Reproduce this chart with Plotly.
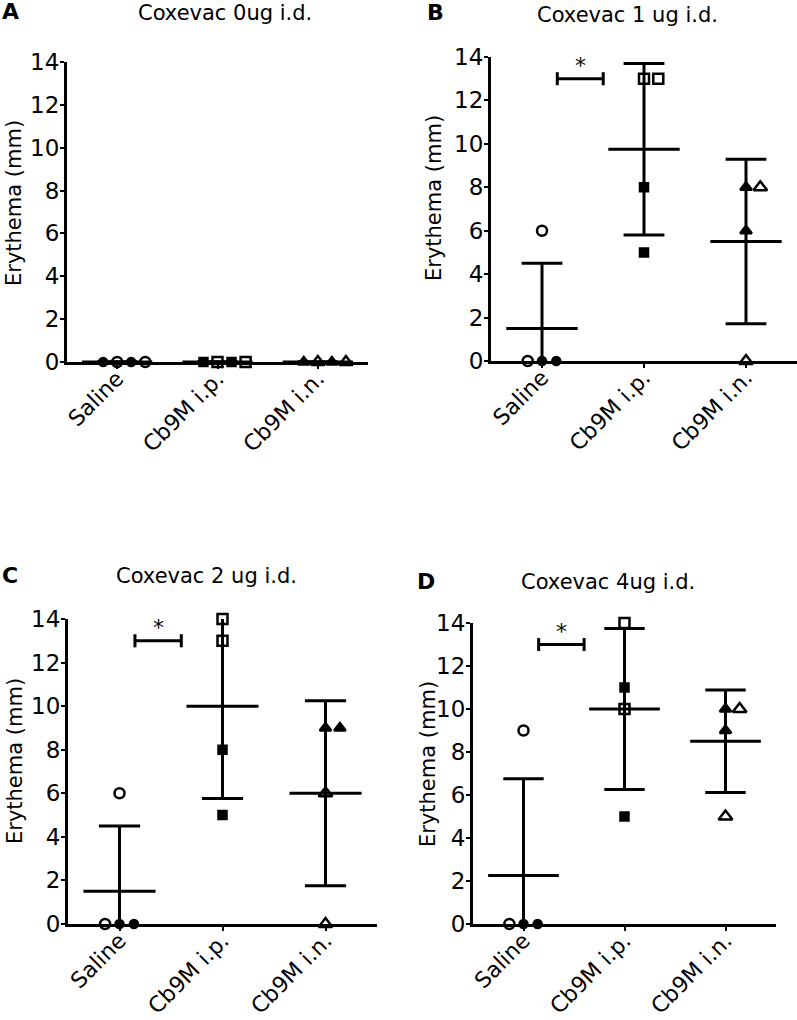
"""
Erythema after Coxevac intradermal challenge, four dose panels.
Scatter of individual animals with mean and SD bars.
"""
import plotly.graph_objects as go
from plotly.subplots import make_subplots
import numpy as np

W, H = 797, 1020

groups = ["Saline", "Cb9M i.p.", "Cb9M i.n."]
y_ticks = [0, 2, 4, 6, 8, 10, 12, 14]

panel_letters = ["A", "B", "C", "D"]
panel_titles = ["Coxevac 0ug i.d.", "Coxevac 1 ug i.d.", "Coxevac 2 ug i.d.", "Coxevac 4ug i.d."]
significant = [False, True, True, True]

# Erythema (mm) per animal; equal values are listed left to right as drawn
erythema_0ug = [[0, 0, 0, 0], [0, 0, 0, 0], [0, 0, 0, 0]]
erythema_1ug = [[0, 0, 0, 6], [13, 13, 8, 5], [8, 8, 6, 0]]
erythema_2ug = [[0, 0, 0, 6], [14, 13, 8, 5], [9, 9, 6, 0]]
erythema_4ug = [[0, 0, 0, 9], [14, 11, 10, 5], [10, 10, 9, 5]]

# Hollow (True) or solid (False) symbol for each animal
hollow_0ug = [[False, True, False, True], [False, True, False, True], [False, True, False, True]]
hollow_1ug = [[True, False, False, True], [True, True, False, False], [False, True, False, True]]
hollow_2ug = [[True, False, False, True], [True, True, False, False], [False, False, True, True]]
hollow_4ug = [[True, False, False, True], [True, False, True, False], [False, True, False, True]]

panel_values = [erythema_0ug, erythema_1ug, erythema_2ug, erythema_4ug]
panel_hollow = [hollow_0ug, hollow_1ug, hollow_2ug, hollow_4ug]

symbols = ["circle", "square", "triangle-up"]
FONT = "DejaVu Sans"

# Plot areas in pixels: left, right, top (y=14), bottom (y=0)
boxes = [(67, 368, 62, 362), (491, 797, 57, 361), (68, 377, 619, 924), (473, 776, 623, 924)]
letter_pos = [(10, 12), (435, 13), (10, 575), (426, 581)]
title_pos = [(225, 13), (627, 15), (206, 576), (608, 582)]
# left edge / vertical centre of the rotated y-axis titles
ytitle_pos = [(0, 203), (420, 198), (1, 761), (414, 764)]


def px(x, y):
    """Pixel position -> paper coordinates."""
    return x / W, 1 - y / H


def spread(values, step=0.14):
    """Horizontal offsets for equal values, like the prism scatter layout."""
    offsets = []
    for i, v in enumerate(values):
        same = [j for j, w in enumerate(values) if w == v]
        k = same.index(i)
        offsets.append((k - (len(same) - 1) // 2) * step)
    return offsets


fig = make_subplots(rows=2, cols=2)

for p in range(4):
    row, col = p // 2 + 1, p % 2 + 1
    left, right, top, bottom = boxes[p]
    x0d, y1d = px(left, top)
    x1d, y0d = px(right, bottom)
    fig.update_xaxes(domain=[max(x0d, 0), min(x1d, 1)], row=row, col=col)
    fig.update_yaxes(domain=[max(y0d, 0), min(y1d, 1)], row=row, col=col)

    # Mean and SD bars
    bx, by = [], []
    for g, vals in enumerate(panel_values[p]):
        m = np.mean(vals)
        sd = np.std(vals, ddof=1)
        lo, hi = m - sd, m + sd
        bx += [g, g, None, g - 0.2, g + 0.2, None, g - 0.2, g + 0.2, None, g - 0.35, g + 0.35, None]
        by += [lo, hi, None, hi, hi, None, lo, lo, None, m, m, None]
    fig.add_trace(
        go.Scatter(x=bx, y=by, mode="lines", line=dict(color="black", width=3),
                   hoverinfo="skip"),
        row=row, col=col
    )

    # Individual animals
    for g, vals in enumerate(panel_values[p]):
        offs = spread(vals)
        syms = [symbols[g] + ("-open" if h else "") for h in panel_hollow[p][g]]
        if g == 2:
            sizes = [12 if h else 10 for h in panel_hollow[p][g]]
        else:
            sizes = [10 if h else 8 for h in panel_hollow[p][g]]
        fig.add_trace(
            go.Scatter(
                x=[g + o for o in offs],
                y=vals,
                mode="markers",
                marker=dict(symbol=syms, size=sizes, color="black", opacity=1,
                            line=dict(color="black", width=2.5)),
                cliponaxis=False,
            ),
            row=row, col=col
        )

    xref = "x" if p == 0 else f"x{p + 1}"
    yref = "y" if p == 0 else f"y{p + 1}"

    # Significance bracket Saline vs Cb9M i.p.
    if significant[p]:
        x0, x1, yb = 0.15, 0.6, 13
        fig.add_shape(type="line", xref=xref, yref=yref, x0=x0, x1=x1, y0=yb, y1=yb,
                      line=dict(color="black", width=3))
        for xe in (x0, x1):
            fig.add_shape(type="line", xref=xref, yref=yref, x0=xe, x1=xe, y0=yb - 0.3, y1=yb + 0.3,
                          line=dict(color="black", width=3))
        fig.add_annotation(x=(x0 + x1) / 2, y=13.6, xref=xref, yref=yref, text="*",
                           showarrow=False, font=dict(size=22, family=FONT, color="black"),
                           yanchor="middle")

    # Panel letter, title and y-axis title
    lx, ly = px(*letter_pos[p])
    fig.add_annotation(x=lx, y=ly, xref="paper", yref="paper", text=f"<b>{panel_letters[p]}</b>",
                       showarrow=False, font=dict(size=22, family=FONT, color="black"),
                       xanchor="center", yanchor="middle")
    tx, ty = px(*title_pos[p])
    fig.add_annotation(x=tx, y=ty, xref="paper", yref="paper", text=panel_titles[p],
                       showarrow=False, font=dict(size=21, family=FONT, color="black"),
                       xanchor="center", yanchor="middle")
    ax, ay = px(*ytitle_pos[p])
    fig.add_annotation(x=ax, y=ay, xref="paper", yref="paper", text="Erythema (mm)",
                       textangle=-90, showarrow=False,
                       font=dict(size=21, family=FONT, color="black"),
                       xanchor="left", yanchor="middle")

fig.update_xaxes(
    range=[-0.5, 2.5], tickvals=[0, 1, 2], ticktext=groups, tickangle=-45,
    showline=True, linewidth=3, linecolor="black", ticks="outside", ticklen=4,
    tickwidth=2, tickcolor="black", showgrid=False, zeroline=False, automargin=False,
    ticklabelstandoff=-12,
    tickfont=dict(size=22, family=FONT, color="black")
)
fig.update_yaxes(
    range=[0, 14], tickvals=y_ticks, showline=True, linewidth=3, linecolor="black",
    ticks="outside", ticklen=4, tickwidth=2, tickcolor="black", showgrid=False,
    zeroline=False, automargin=False, ticklabelstandoff=-4,
    tickfont=dict(size=23, family=FONT, color="black")
)

fig.update_layout(
    width=W, height=H,
    margin=dict(l=0, r=0, t=0, b=0),
    template="none",
    plot_bgcolor="white",
    paper_bgcolor="white",
    showlegend=False,
    font=dict(family=FONT, color="black")
)

# drop the default page margin so the figure fills the window exactly
fig.write_html("out.html", config={"displayModeBar": False},
               post_script="document.body.style.margin = '0';")
